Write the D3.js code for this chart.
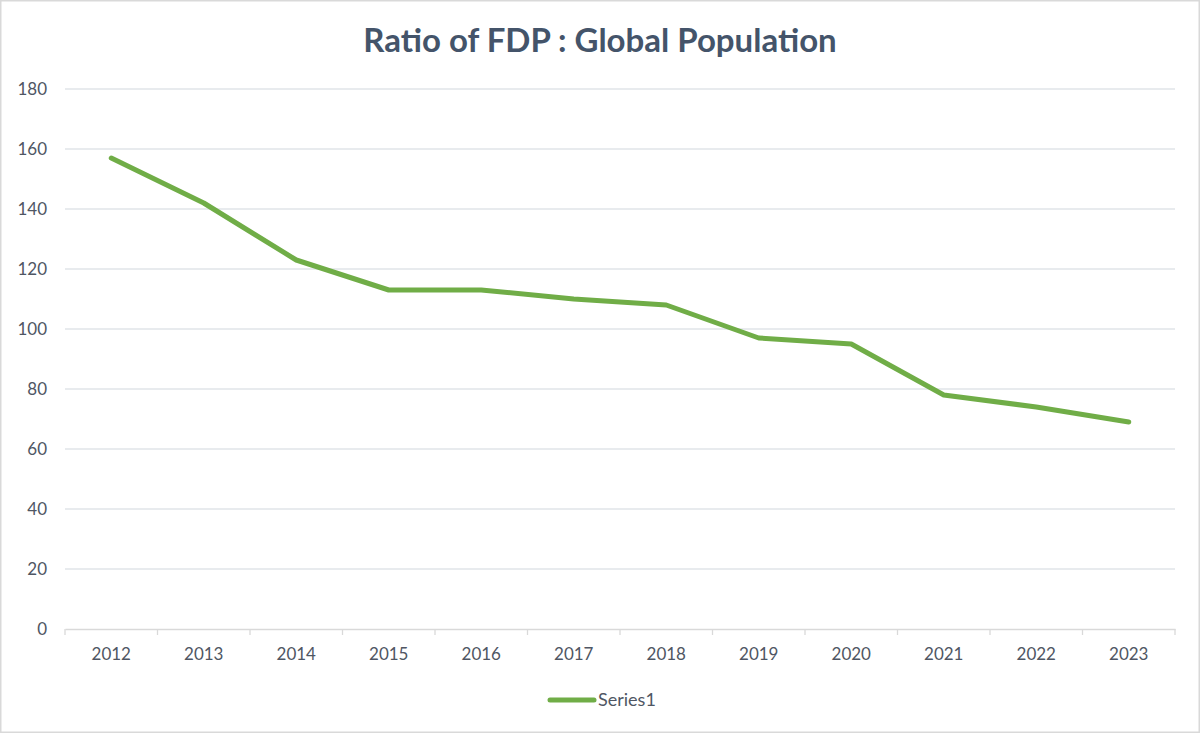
<!DOCTYPE html>
<html><head><meta charset="utf-8">
<script src="https://cdn.jsdelivr.net/npm/d3@7"></script>
<style>body{margin:0;background:#fff;}svg{display:block;}</style>
</head><body>
<svg id="c" width="1200" height="733"></svg>
<script>
const years = ["2012","2013","2014","2015","2016","2017","2018","2019","2020","2021","2022","2023"];
const series1 = [157,142,123,113,113,110,108,97,95,78,74,69];
const yTicks = [0,20,40,60,80,100,120,140,160,180];
const title = "Ratio of FDP : Global Population";
const seriesName = "Series1";

const svg = d3.select("#c");
const W=1200,H=733;
const font = "Lato, 'Open Sans', sans-serif";
const txt = "#4f5663";
svg.append("rect").attr("x",0.5).attr("y",0.5).attr("width",W-1).attr("height",H-1)
  .attr("fill","#fff").attr("stroke","#d9d9d9").attr("stroke-width",2);

const m={l:65,r:1175,t:89,b:629};
const x = d3.scaleBand().domain(years).range([m.l,m.r]);
const y = d3.scaleLinear().domain([0,180]).range([m.b,m.t]);

// gridlines
svg.append("g").selectAll("line").data(yTicks.filter(d=>d>0)).join("line")
  .attr("x1",m.l).attr("x2",m.r).attr("y1",d=>y(d)).attr("y2",d=>y(d))
  .attr("stroke","#e1e4e8").attr("stroke-width",1.3);

// y axis labels
const ya = svg.append("g").attr("transform",`translate(${m.l},0)`)
  .call(d3.axisLeft(y).tickValues(yTicks).tickSize(0).tickPadding(18));
ya.select(".domain").remove();
ya.selectAll("text").attr("font-family",font).attr("font-size",17).attr("fill",txt);

// x axis
const xa = svg.append("g").attr("transform",`translate(0,${m.b})`)
  .call(d3.axisBottom(x).tickSize(0).tickPadding(19));
xa.select(".domain").attr("stroke","#d9d9d9").attr("stroke-width",1.3);
xa.selectAll("text").attr("font-family",font).attr("font-size",17).attr("fill",txt);
// boundary tick marks between categories
svg.append("g").selectAll("line").data(years.concat(["end"])).join("line")
  .attr("x1",(d,i)=>m.l+i*x.step()).attr("x2",(d,i)=>m.l+i*x.step())
  .attr("y1",m.b).attr("y2",m.b+6).attr("stroke","#d9d9d9").attr("stroke-width",1.3);

// line
const line = d3.line().x((d,i)=>x(years[i])+x.bandwidth()/2).y(d=>y(d));
svg.append("path").datum(series1).attr("d",line).attr("fill","none")
  .attr("stroke","#70ad47").attr("stroke-width",5).attr("stroke-linejoin","round").attr("stroke-linecap","round");

// title
svg.append("text").attr("x",W/2).attr("y",52).attr("text-anchor","middle")
  .attr("font-family",font).attr("font-weight","bold").attr("font-size",33).attr("fill","#44546a").text(title);

// legend
svg.append("line").attr("x1",550).attr("x2",594).attr("y1",700).attr("y2",700)
  .attr("stroke","#70ad47").attr("stroke-width",5).attr("stroke-linecap","round");
svg.append("text").attr("x",598).attr("y",706).attr("font-family",font).attr("font-size",18)
  .attr("fill",txt).text(seriesName);
</script>
</body></html>
